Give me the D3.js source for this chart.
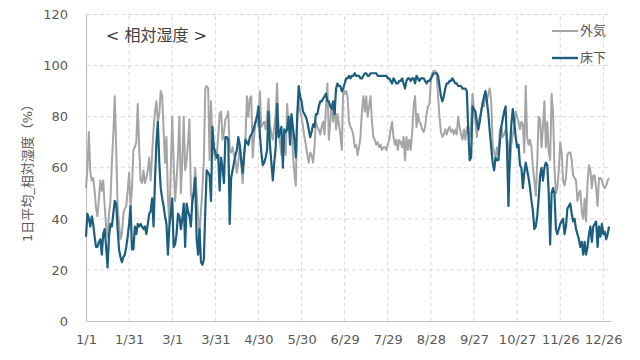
<!DOCTYPE html>
<html>
<head>
<meta charset="utf-8">
<script src="https://cdn.jsdelivr.net/npm/d3@7"></script>
<style>
    body { margin: 0; background: #fff; }
    text { font-family: "DejaVu Sans", "Noto Sans CJK JP", sans-serif; }
</style>
</head>
<body>
<div id="div-grafico"></div>
<script>
// 外気 (1日平均 相対湿度 %), 1/1 から 365 日
var outdoor = [
    52, 60, 74, 58, 55, 56, 51, 44, 41, 48,
    55, 51, 55, 45, 37, 33, 42, 47, 62, 73,
    88, 68, 45, 38, 32, 34, 42, 44, 45, 51,
    58, 45, 52, 67, 68, 70, 85, 68, 55, 54,
    59, 54, 56, 59, 64, 55, 65, 75, 82, 86,
    78, 81, 90, 88, 75, 62, 72, 48, 38, 60,
    80, 62, 47, 55, 65, 80, 50, 62, 80, 59,
    63, 70, 79, 50, 46, 52, 60, 50, 41, 34,
    43, 52, 63, 91, 92, 91, 63, 86, 69, 66,
    63, 65, 72, 81, 82, 71, 74, 79, 80, 82,
    67, 66, 68, 65, 63, 58, 62, 69, 62, 54,
    63, 72, 88, 80, 87, 88, 64, 72, 78, 80,
    76, 90, 76, 77, 78, 75, 80, 87, 77, 73,
    71, 76, 81, 93, 75, 70, 65, 73, 69, 65,
    85, 75, 78, 80, 65, 58, 53, 80, 88, 82,
    80, 76, 72, 69, 65, 62, 66, 65, 62, 68,
    78, 76, 75, 73, 76, 78, 73, 84, 93, 71,
    78, 85, 78, 86, 75, 81, 77, 73, 67, 91,
    89, 90, 88, 78, 76, 75, 73, 68, 69, 65,
    68, 72, 82, 88, 82, 88, 80, 84, 88, 78,
    72, 71, 69, 70, 68, 69, 67, 68, 68, 67,
    69, 71, 75, 78, 72, 69, 71, 67, 71, 70,
    68, 72, 63, 72, 67, 71, 67, 74, 84, 88,
    76, 81, 78, 77, 75, 74, 76, 81, 84, 85,
    94, 97, 98, 98, 97, 88, 80, 74, 72, 73,
    75, 73, 75, 76, 74, 75, 73, 75, 73, 80,
    76, 73, 71, 75, 71, 76, 74, 72, 78, 89,
    82, 78, 72, 78, 80, 82, 86, 84, 88, 86,
    89, 91, 86, 69, 66, 64, 68, 65, 75, 76,
    72, 73, 75, 72, 68, 60, 69, 73, 76, 82,
    80, 78, 75, 78, 77, 66, 92, 72, 69, 71,
    68, 60, 55, 49, 62, 80, 79, 68, 76, 86,
    68, 78, 66, 63, 89, 82, 60, 50, 52, 59,
    70, 66, 55, 53, 56, 65, 66, 66, 63, 57,
    56, 55, 47, 50, 51, 43, 40, 48, 39, 54,
    61, 59, 52, 57, 57, 52, 45, 56, 56, 55,
    53, 52, 53, 55, 56
];

// 床下
var underfloor = [
    33, 42, 40, 37, 41, 38, 33, 29, 29, 31,
    32, 26, 34, 36, 29, 21, 33, 38, 37, 42,
    47, 46, 36, 28, 25, 23, 25, 26, 29, 33,
    38, 45, 28, 28, 37, 34, 38, 37, 38, 37,
    36, 37, 34, 38, 42, 43, 48, 37, 55, 70,
    78, 62, 52, 48, 45, 41, 38, 26, 37, 42,
    48, 29, 30, 34, 42, 41, 36, 40, 46, 29,
    46, 43, 41, 37, 47, 50, 56, 32, 26, 36,
    23, 22, 24, 43, 59, 58, 57, 47, 76, 68,
    66, 64, 65, 51, 64, 60, 54, 72, 72, 71,
    38, 56, 59, 62, 65, 67, 72, 69, 63, 58,
    65, 71, 70, 69, 72, 73, 74, 76, 78, 80,
    84, 73, 66, 61, 62, 64, 67, 82, 69, 62,
    55, 62, 68, 85, 72, 74, 76, 60, 75, 74,
    75, 80, 69, 81, 76, 71, 64, 80, 92, 88,
    86, 82, 81, 80, 78, 75, 72, 74, 77, 76,
    81, 81, 84, 86, 86, 87, 88, 89, 86, 86,
    84, 83, 86, 81, 91, 93, 92, 92, 90, 91,
    93, 95, 95, 96, 95, 96, 96, 97, 96, 96,
    96, 95, 95, 96, 97, 97, 96, 96, 97, 97,
    97, 97, 97, 96, 96, 96, 96, 96, 96, 96,
    95, 95, 94, 93, 95, 94, 93, 93, 94, 94,
    95, 93, 91, 94, 95, 95, 94, 95, 95, 93,
    96, 95, 94, 95, 95, 95, 94, 93, 94, 94,
    95, 96, 97, 97, 97, 96, 92, 88, 86, 88,
    91, 93, 93, 94, 94, 95, 94, 93, 93, 92,
    92, 92, 91, 91, 91, 90, 75, 63, 64, 84,
    83, 82, 78, 75, 78, 82, 85, 88, 90, 86,
    81, 74, 68, 62, 59, 64, 63, 63, 70, 76,
    79, 82, 84, 67, 45, 67, 77, 83, 78, 72,
    68, 69, 61, 60, 52, 58, 62, 59, 56, 52,
    47, 43, 36, 37, 41, 48, 57, 60, 55, 60,
    62, 61, 50, 30, 50, 52, 50, 36, 34, 36,
    38, 39, 40, 34, 37, 44, 45, 46, 42, 39,
    40, 36, 34, 32, 29, 31, 26, 31, 26, 29,
    34, 37, 31, 37, 38, 39, 29, 37, 33, 38,
    34, 35, 32, 34, 37
];

// 目盛り (日数, ラベル)
var tickDays = [0, 30, 60, 90, 120, 150, 180, 210, 240, 270, 300, 330, 360];
var tickLabels = ["1/1", "1/31", "3/1", "3/31", "4/30", "5/30", "6/29", "7/29", "8/28", "9/27", "10/27", "11/26", "12/26"];
var yTicks = [0, 20, 40, 60, 80, 100, 120];

var seriesNames = ["外気", "床下"];
var seriesColors = ["#a5a5a5", "#1b5e7e"];

var width = 640, height = 360;
var margin = { top: 14.5, right: 29.5, bottom: 39, left: 86 };

var x = d3.scaleLinear().domain([0, 365]).range([margin.left, width - margin.right]);
var y = d3.scaleLinear().domain([0, 120]).range([height - margin.bottom, margin.top]);

var svg = d3.select("#div-grafico").append("svg")
    .attr("width", width)
    .attr("height", height);

// grid
svg.append("g")
    .selectAll("line")
    .data(yTicks.filter(function (d) { return d > 0; }))
    .enter().append("line")
    .attr("x1", x(0)).attr("x2", x(365))
    .attr("y1", function (d) { return y(d); })
    .attr("y2", function (d) { return y(d); })
    .attr("stroke", "#d9d9d9")
    .attr("stroke-dasharray", "4,3");

svg.append("g")
    .selectAll("line")
    .data(tickDays.filter(function (d) { return d > 0; }))
    .enter().append("line")
    .attr("x1", function (d) { return x(d); })
    .attr("x2", function (d) { return x(d); })
    .attr("y1", y(0)).attr("y2", y(120))
    .attr("stroke", "#d9d9d9")
    .attr("stroke-dasharray", "4,3");

// X axis
var xAxis = svg.append("g")
    .attr("transform", "translate(0," + y(0) + ")")
    .call(d3.axisBottom(x)
        .tickValues(tickDays)
        .tickSize(0)
        .tickPadding(14)
        .tickFormat(function (d, i) { return tickLabels[i]; }));
xAxis.select(".domain").attr("stroke", "#bfbfbf").attr("stroke-width", 1.2);
xAxis.selectAll("text").attr("fill", "#595959").style("font-size", "13px");

// Y axis
var yAxis = svg.append("g")
    .attr("transform", "translate(" + x(0) + ",0)")
    .call(d3.axisLeft(y)
        .tickValues(yTicks)
        .tickSize(0)
        .tickPadding(18));
yAxis.select(".domain").attr("stroke", "#bfbfbf").attr("stroke-width", 1.2);
yAxis.selectAll("text").attr("fill", "#595959").style("font-size", "13px");

// Y axis title
svg.append("text")
    .attr("transform", "translate(28," + 170 + ") rotate(-90)")
    .attr("text-anchor", "middle")
    .attr("dominant-baseline", "middle")
    .attr("fill", "#595959")
    .style("font-size", "13px")
    .text("1日平均_相対湿度（%）");

// lines
var valueline = d3.line()
    .x(function (d, i) { return x(i); })
    .y(function (d) { return y(d); });

[outdoor, underfloor].forEach(function (data, k) {
    svg.append("path")
        .datum(data)
        .attr("fill", "none")
        .attr("stroke", seriesColors[k])
        .attr("stroke-width", k === 0 ? 2 : 2.2)
        .attr("stroke-linejoin", "round")
        .attr("d", valueline);
});

// title
svg.append("text")
    .attr("x", 106)
    .attr("y", 36)
    .attr("dominant-baseline", "middle")
    .attr("fill", "#404040")
    .style("font-size", "16px")
    .text("< 相対湿度 >");

// legend
var legend = svg.append("g");
seriesNames.forEach(function (name, k) {
    var ly = 31 + k * 27;
    legend.append("line")
        .attr("x1", 552).attr("x2", 578)
        .attr("y1", ly).attr("y2", ly)
        .attr("stroke", seriesColors[k])
        .attr("stroke-width", k === 0 ? 2 : 2.4);
    legend.append("text")
        .attr("x", 580)
        .attr("y", ly)
        .attr("dominant-baseline", "middle")
        .attr("fill", "#595959")
        .style("font-size", "13px")
        .text(name);
});
</script>
</body>
</html>
